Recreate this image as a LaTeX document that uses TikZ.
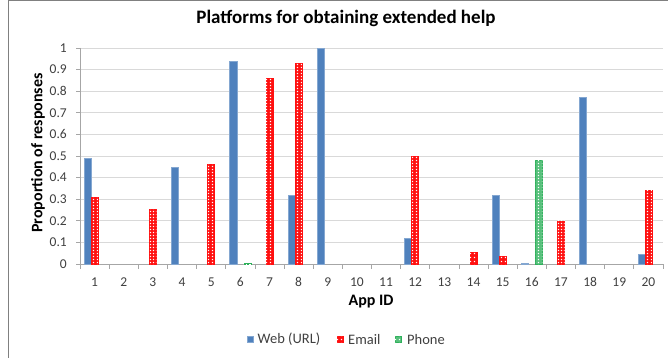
\documentclass[tikz,border=0pt]{standalone}
\usepackage{fontspec}
\setmainfont{Carlito}
\usetikzlibrary{patterns}
\pgfdeclarepatternformonly{mychk}{\pgfpointorigin}{\pgfqpoint{3.4pt}{3.4pt}}{\pgfqpoint{3.4pt}{3.4pt}}{\pgfpathrectangle{\pgfqpoint{0.9pt}{0.9pt}}{\pgfqpoint{1.5pt}{1.5pt}}\pgfusepath{fill}}
\definecolor{webblue}{HTML}{4F81BD}
\definecolor{mailred}{HTML}{FF1010}
\definecolor{phonegreen}{HTML}{2DB05A}
\definecolor{gridgray}{HTML}{D9D9D9}
\definecolor{axisgray}{HTML}{A6A6A6}
\definecolor{txtgray}{HTML}{404040}
\tikzset{
  webbar/.style={fill=webblue, draw=webblue!70!white, line width=0.4pt},
  mailbar/.style={fill=mailred, draw=mailred, line width=0.6pt, postaction={pattern=mychk, pattern color=white}},
  phonebar/.style={fill=phonegreen!80!white, draw=phonegreen, line width=0.6pt, postaction={pattern=mychk, pattern color=white}},
  ticklbl/.style={text=txtgray, font=\fontsize{13.5}{15}\selectfont, inner sep=0pt},
  axlbl/.style={text=black, font=\bfseries\fontsize{16}{18}\selectfont, inner sep=0pt},
  legtxt/.style={text=txtgray, font=\fontsize{14.5}{16}\selectfont, inner sep=0pt, anchor=west}
}
\newcommand{\cw}{29.15}
% bar: #1 category, #2 series offset (0,1,2), #3 value, #4 style
\newcommand{\onebar}[4]{%
  \pgfmathsetmacro{\xa}{80+(#1-0.5)*\cw-10.65+#2*7.1}%
  \pgfmathsetmacro{\xb}{\xa+7.1}%
  \pgfmathsetmacro{\yt}{264-216*#3}%
  \path[#4] (\xa,264) rectangle (\xb,\yt);%
}
\begin{document}
\begin{tikzpicture}[x=1pt,y=-1pt]
\useasboundingbox (0,0) rectangle (668,358);
\fill[white] (0,0) rectangle (668,358);
% chart border
\draw[gray, line width=1.2pt] (8.6,358) -- (8.6,0.6) -- (668,0.6);
% title
\node[font=\bfseries\fontsize{19}{21}\selectfont, inner sep=0pt] (title) at (346,18) {Platforms for obtaining extended help};
% gridlines
\foreach \k in {1,...,10} {
  \draw[gridgray, line width=0.8pt] (80,{264-21.6*\k}) -- (663,{264-21.6*\k});
}
% axes
\draw[axisgray, line width=0.8pt] (80,48) -- (80,264);
\foreach \k in {0,...,10} {
  \draw[axisgray, line width=0.8pt] (76,{264-21.6*\k}) -- (80,{264-21.6*\k});
}
\draw[axisgray, line width=0.8pt] (80,264) -- (663,264);
\foreach \i in {0,...,20} {
  \draw[axisgray, line width=0.8pt] ({80+\i*\cw},264) -- ({80+\i*\cw},269);
}
% y tick labels
\foreach \v/\t in {0/0,1/0.1,2/0.2,3/0.3,4/0.4,5/0.5,6/0.6,7/0.7,8/0.8,9/0.9,10/1} {
  \node[ticklbl, anchor=east] at (67,{264-21.6*\v}) {\t};
}
% x tick labels
\foreach \i in {1,...,20} {
  \node[ticklbl] at ({80+(\i-0.5)*\cw},282) {\i};
}
% axis titles
\node[axlbl] (xlab) at (371,302) {App ID};
\node[axlbl, rotate=90] (ylab) at (38,153) {Proportion of responses};
% bars
\onebar{1}{0}{0.49}{webbar}
\onebar{1}{1}{0.31}{mailbar}
\onebar{3}{1}{0.255}{mailbar}
\onebar{4}{0}{0.45}{webbar}
\onebar{5}{1}{0.46}{mailbar}
\onebar{6}{0}{0.94}{webbar}
\onebar{6}{2}{0.004}{phonebar}
\onebar{7}{1}{0.86}{mailbar}
\onebar{8}{0}{0.32}{webbar}
\onebar{8}{1}{0.93}{mailbar}
\onebar{9}{0}{1.0}{webbar}
\onebar{12}{0}{0.12}{webbar}
\onebar{12}{1}{0.50}{mailbar}
\onebar{14}{1}{0.055}{mailbar}
\onebar{15}{0}{0.32}{webbar}
\onebar{15}{1}{0.035}{mailbar}
\onebar{16}{0}{0.004}{webbar}
\onebar{16}{2}{0.48}{phonebar}
\onebar{17}{1}{0.20}{mailbar}
\onebar{18}{0}{0.77}{webbar}
\onebar{20}{0}{0.045}{webbar}
\onebar{20}{1}{0.34}{mailbar}
% legend
\path[webbar] (247,336) rectangle (253.5,342.5);
\node[legtxt] (lweb) at (257.5,339.5) {Web (URL)};
\path[mailbar] (337,336) rectangle (343.5,342.5);
\node[legtxt] (lmail) at (348,339.5) {Email};
\path[phonebar] (395,336) rectangle (401.5,342.5);
\node[legtxt] (lphone) at (407,339.5) {Phone};
\end{tikzpicture}
\end{document}
